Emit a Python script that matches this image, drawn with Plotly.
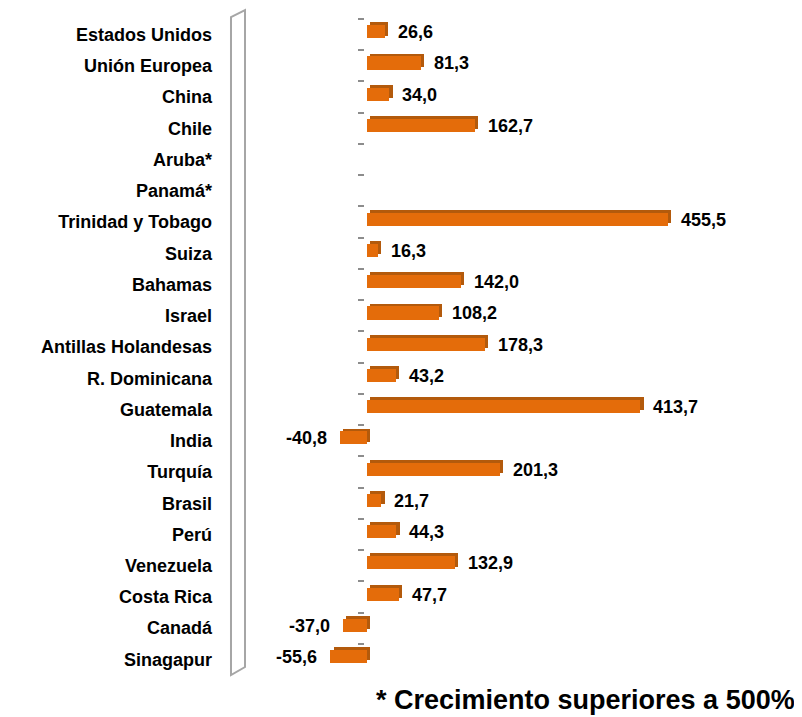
import plotly.graph_objects as go

# Datos
paises = [
    "Estados Unidos", "Unión Europea", "China", "Chile", "Aruba*", "Panamá*",
    "Trinidad y Tobago", "Suiza", "Bahamas", "Israel", "Antillas Holandesas",
    "R. Dominicana", "Guatemala", "India", "Turquía", "Brasil", "Perú",
    "Venezuela", "Costa Rica", "Canadá", "Sinagapur",
]
crecimiento = [
    26.6, 81.3, 34.0, 162.7, None, None, 455.5, 16.3, 142.0, 108.2, 178.3,
    43.2, 413.7, -40.8, 201.3, 21.7, 44.3, 132.9, 47.7, -37.0, -55.6,
]
nota = "* Crecimiento superiores a 500%"

# la página deja 8 px de margen alrededor del gráfico
OFF = 8
W, H = 802 - OFF, 717 - OFF
L, R, T, B = 245 - OFF, 62, 19 - OFF, 42
x_rango = [-184.6, 564.3]
y_rango = [len(paises) - 0.5, -0.5]

naranja = "#E46C0A"
naranja_osc = "#B35A0C"
fuente = "Liberation Sans, Arial, sans-serif"


def etiqueta(v):
    if v is None:
        return ""
    s = f"{v:.1f}".replace(".", ",")
    return f"  {s}" if v >= 0 else f"{s}  "


fig = go.Figure()

# cara lateral / superior (efecto 3D)
fig.add_trace(
    go.Bar(
        y=paises,
        x=crecimiento,
        base=5,
        orientation="h",
        width=0.42,
        offset=-0.39,
        marker=dict(color=naranja_osc, line=dict(width=0)),
        hoverinfo="skip",
        showlegend=False,
        yaxis="y",
    )
)

# cara frontal
fig.add_trace(
    go.Bar(
        y=paises,
        x=crecimiento,
        orientation="h",
        width=0.42,
        offset=-0.3,
        marker=dict(color=naranja, line=dict(width=0)),
        text=[etiqueta(v) for v in crecimiento],
        textposition="outside",
        constraintext="none",
        textfont=dict(family=fuente, size=18, color="#000000", weight="bold"),
        cliponaxis=False,
        showlegend=False,
        yaxis="y2",
    )
)

# eje de marcas justo a la izquierda del cero
pos_marcas = (-5 - x_rango[0]) / (x_rango[1] - x_rango[0])

# pared izquierda (coordenadas de pantalla)
px_x = lambda p: (p - OFF - L) / (W - L - R)
px_y = lambda p: (H - B - (p - OFF)) / (H - T - B)
pared = [(231, 17), (245, 10), (245, 667), (231, 675)]
path = "M " + " L ".join(f"{px_x(a):.4f},{px_y(b):.4f}" for a, b in pared) + " Z"
fig.add_shape(
    type="path",
    path=path,
    xref="paper",
    yref="paper",
    line=dict(color="#A6A6A6", width=2),
    fillcolor="white",
    layer="below",
)

fig.add_annotation(
    text=nota,
    xref="paper",
    yref="paper",
    x=px_x(797),
    y=px_y(700),
    xanchor="right",
    yanchor="middle",
    showarrow=False,
    font=dict(family=fuente, size=27, color="#000000", weight="bold"),
)

fig.update_layout(
    width=W,
    height=H,
    margin=dict(l=L, r=R, t=T, b=B),
    plot_bgcolor="white",
    paper_bgcolor="white",
    barmode="overlay",
    bargap=0,
    xaxis=dict(
        range=x_rango,
        showgrid=False,
        zeroline=False,
        showticklabels=False,
        showline=False,
        ticks="",
    ),
    yaxis=dict(
        type="category",
        categoryorder="array",
        categoryarray=paises,
        range=y_rango,
        showgrid=False,
        showline=False,
        ticks="",
        ticklabelstandoff=32,
        tickfont=dict(family=fuente, size=18, color="#000000", weight="bold"),
    ),
    yaxis2=dict(
        type="category",
        categoryorder="array",
        categoryarray=paises,
        range=y_rango,
        overlaying="y",
        anchor="free",
        position=pos_marcas,
        side="left",
        showgrid=False,
        showline=False,
        showticklabels=False,
        ticks="outside",
        tickson="boundaries",
        ticklen=6,
        tickwidth=2,
        tickcolor="#8C8C8C",
    ),
)

fig.write_html("out.html")
